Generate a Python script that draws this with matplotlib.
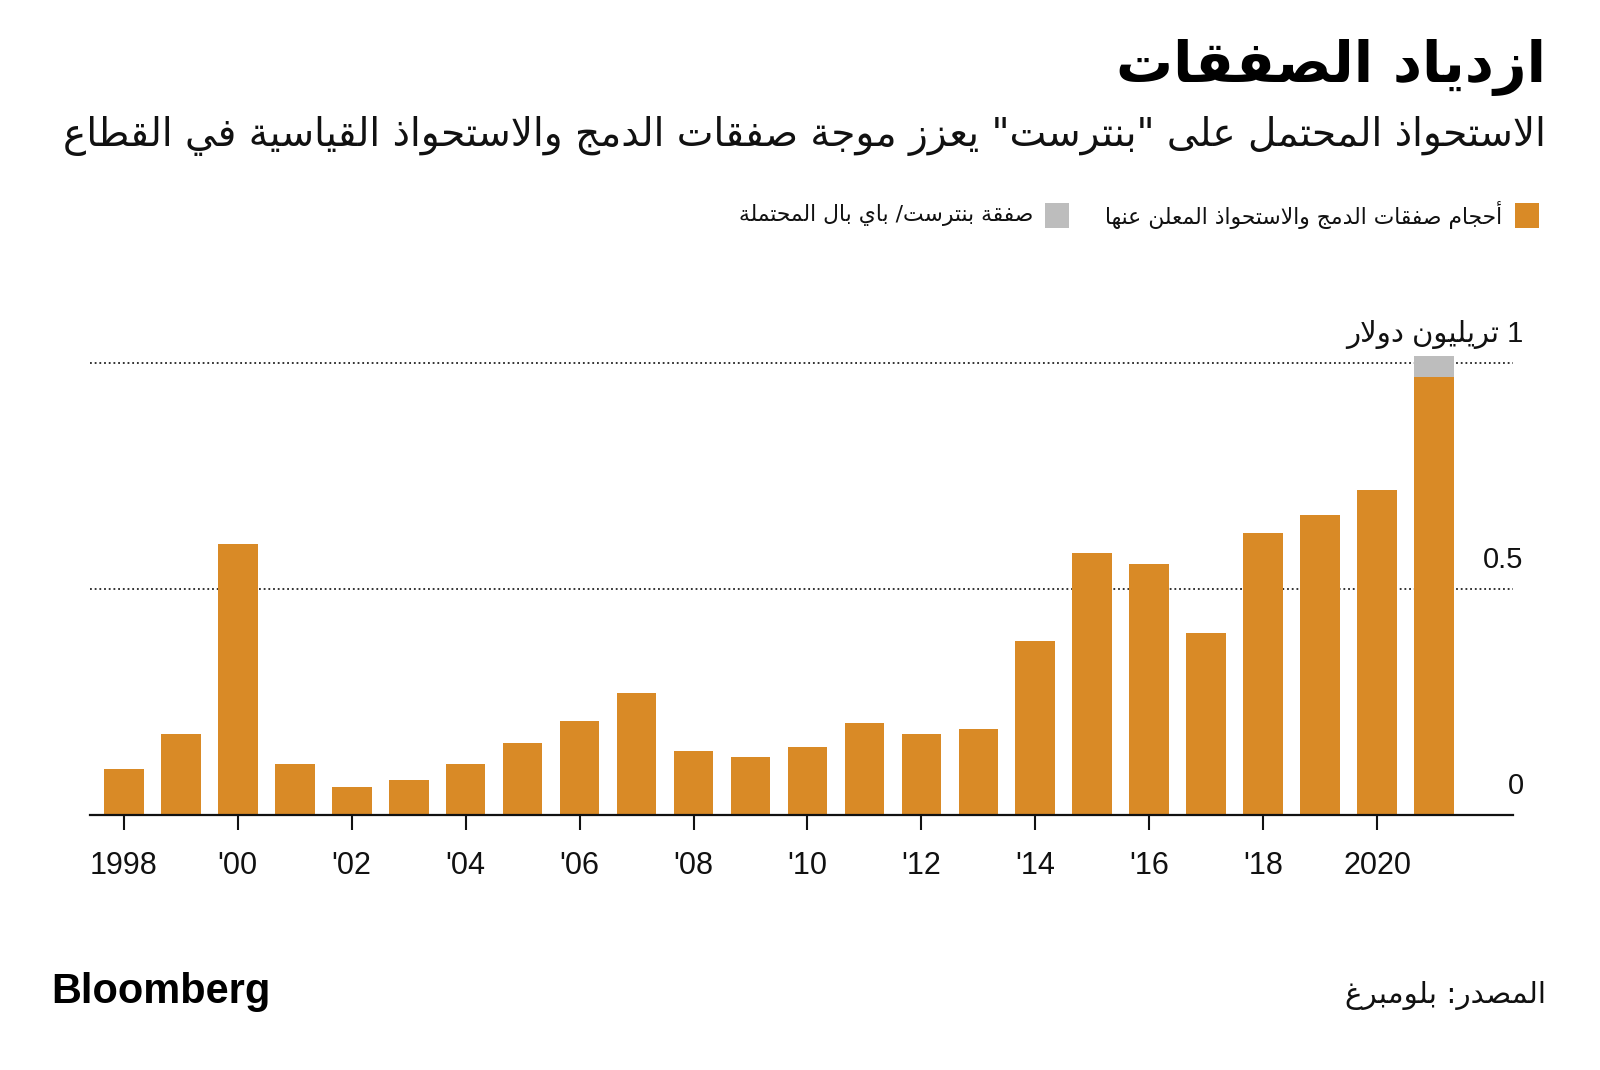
import matplotlib
matplotlib.use("Agg")
import matplotlib.pyplot as plt
from matplotlib import font_manager
from matplotlib.patches import Rectangle
import matplotlib.transforms as mtransforms

# ---------------- data ----------------
years = [1998, 1999, 2000, 2001, 2002, 2003, 2004, 2005, 2006, 2007, 2008, 2009,
         2010, 2011, 2012, 2013, 2014, 2015, 2016, 2017, 2018, 2019, 2020, 2021]
announced = [0.102, 0.179, 0.599, 0.113, 0.063, 0.079, 0.113, 0.159, 0.209, 0.270,
             0.143, 0.129, 0.152, 0.204, 0.179, 0.190, 0.385, 0.580, 0.556, 0.404,
             0.624, 0.664, 0.719, 0.968]
pending_years = [2021]
pending_values = [0.047]

tick_years = [1998, 2000, 2002, 2004, 2006, 2008, 2010, 2012, 2014, 2016, 2018, 2020]
tick_labels = ["1998", "'00", "'02", "'04", "'06", "'08", "'10", "'12", "'14", "'16", "'18", "2020"]
y_values = [0, 0.5, 1.0]
y_labels = ["0", "0.5", "1 تريليون دولار"]

title = "ازدياد الصفقات"
subtitle = 'الاستحواذ المحتمل على "بنترست" يعزز موجة صفقات الدمج والاستحواذ القياسية في القطاع'
legend_labels = ["أحجام صفقات الدمج والاستحواذ المعلن عنها", "صفقة بنترست/ باي بال المحتملة"]
source = "المصدر: بلومبرغ"
brand = "Bloomberg"

ORANGE = "#D98A26"
GRAY = "#BDBDBD"

# ---------------- Arabic shaping (contextual forms + RTL order) ----------------
_BASE = [("\u0621", 0xFE80, 1), ("\u0622", 0xFE81, 2), ("\u0623", 0xFE83, 2),
         ("\u0624", 0xFE85, 2), ("\u0625", 0xFE87, 2), ("\u0626", 0xFE89, 4),
         ("\u0627", 0xFE8D, 2), ("\u0628", 0xFE8F, 4), ("\u0629", 0xFE93, 2),
         ("\u062A", 0xFE95, 4), ("\u062B", 0xFE99, 4), ("\u062C", 0xFE9D, 4),
         ("\u062D", 0xFEA1, 4), ("\u062E", 0xFEA5, 4), ("\u062F", 0xFEA9, 2),
         ("\u0630", 0xFEAB, 2), ("\u0631", 0xFEAD, 2), ("\u0632", 0xFEAF, 2),
         ("\u0633", 0xFEB1, 4), ("\u0634", 0xFEB5, 4), ("\u0635", 0xFEB9, 4),
         ("\u0636", 0xFEBD, 4), ("\u0637", 0xFEC1, 4), ("\u0638", 0xFEC5, 4),
         ("\u0639", 0xFEC9, 4), ("\u063A", 0xFECD, 4), ("\u0641", 0xFED1, 4),
         ("\u0642", 0xFED5, 4), ("\u0643", 0xFED9, 4), ("\u0644", 0xFEDD, 4),
         ("\u0645", 0xFEE1, 4), ("\u0646", 0xFEE5, 4), ("\u0647", 0xFEE9, 4),
         ("\u0648", 0xFEED, 2), ("\u0649", 0xFEEF, 2), ("\u064A", 0xFEF1, 4)]
FORMS = {c: tuple(chr(s + k) for k in range(n)) for c, s, n in _BASE}
LAMALEF = {"\u0622": ("\uFEF5", "\uFEF6"), "\u0623": ("\uFEF7", "\uFEF8"),
           "\u0625": ("\uFEF9", "\uFEFA"), "\u0627": ("\uFEFB", "\uFEFC")}


def shape(s):
    if not any(c in FORMS for c in s):
        return s
    chars = list(s)
    n = len(chars)
    dual = lambda c: c in FORMS and len(FORMS[c]) == 4
    joins = lambda c: c in FORMS and len(FORMS[c]) >= 2
    res = []
    i = 0
    while i < n:
        c = chars[i]
        prev = chars[i - 1] if i > 0 else None
        prev_join = prev is not None and dual(prev)
        if c == "\u0644" and i + 1 < n and chars[i + 1] in LAMALEF:
            iso, fin = LAMALEF[chars[i + 1]]
            res.append(fin if prev_join else iso)
            i += 2
            continue
        if c in FORMS:
            f = FORMS[c]
            nxt = chars[i + 1] if i + 1 < n else None
            next_join = nxt is not None and joins(nxt) and len(f) == 4
            if prev_join and next_join:
                res.append(f[3])
            elif prev_join:
                res.append(f[1] if len(f) > 1 else f[0])
            elif next_join:
                res.append(f[2])
            else:
                res.append(f[0])
        else:
            res.append(c)
        i += 1
    return "".join(reversed(res))


# ---------------- fonts ----------------
installed = {f.name for f in font_manager.fontManager.ttflist}
AR = ["DejaVu Sans"]
LAT = ["Liberation Sans"] if "Liberation Sans" in installed else ["DejaVu Sans"]
plt.rcParams["font.family"] = LAT + AR

# ---------------- figure ----------------
W, H = 1600, 1070
fig = plt.figure(figsize=(W / 100, H / 100), dpi=100)
fig.patch.set_facecolor("white")


def fx(px):
    return px / W


def fy(py):
    return 1 - py / H


ax_left, ax_right = 90, 1513
ax_base, ax_top = 815.3, 340.4
ax = fig.add_axes([fx(ax_left), fy(ax_base), (ax_right - ax_left) / W, (ax_base - ax_top) / H])

ax.bar(years, announced, width=0.7, color=ORANGE, zorder=3, linewidth=0)
last = [announced[years.index(y)] for y in pending_years]
ax.bar(pending_years, pending_values, bottom=last, width=0.7, color=GRAY, zorder=3, linewidth=0)

ax.set_xlim(1997.41, 2022.38)
ax.set_ylim(0, 1.05)

for v in y_values[1:]:
    ax.axhline(v, color="#222222", lw=1.3, ls=(0, (1, 1.6)), zorder=1)

for s in ["top", "left", "right"]:
    ax.spines[s].set_visible(False)
ax.spines["bottom"].set_color("#111111")
ax.spines["bottom"].set_linewidth(1.6)
ax.spines["bottom"].set_zorder(4)

ax.set_xticks(tick_years)
ax.set_xticklabels(tick_labels)
ax.tick_params(axis="x", length=10.5, width=1.5, color="#111111", pad=15,
               labelsize=22, labelcolor="#111111")
ax.set_yticks([])

ytrans = mtransforms.blended_transform_factory(ax.transAxes, ax.transData)
for v, lab in zip(y_values, y_labels):
    ax.annotate(shape(lab), xy=(1.0075, v), xycoords=ytrans, xytext=(0, 15),
                textcoords="offset points", ha="right", va="baseline",
                fontsize=21, color="#111111", family=LAT + AR)

# ---------------- texts ----------------
t_title = fig.text(fx(1546), fy(68), shape(title), ha="right", va="center",
                   fontsize=40, fontweight="bold", family=AR, color="#000000")
t_sub = fig.text(fx(1546), fy(136), shape(subtitle), ha="right", va="center",
                 fontsize=26, family=AR, color="#111111")
t_leg1 = fig.text(fx(1502), fy(215), shape(legend_labels[0]), ha="right", va="center",
                  fontsize=15, family=AR, color="#111111")
t_leg2 = fig.text(fx(1033), fy(215), shape(legend_labels[1]), ha="right", va="center",
                  fontsize=15, family=AR, color="#111111")
t_src = fig.text(fx(1546), fy(995), shape(source), ha="right", va="center",
                 fontsize=19, family=AR, color="#111111")
t_brand = fig.text(fx(51), fy(992), brand, ha="left", va="center",
                   fontsize=29, fontweight="bold", family=LAT, color="#000000")

# legend squares
for x0, col in [(1515, ORANGE), (1045, GRAY)]:
    fig.patches.append(Rectangle((fx(x0), fy(228)), 24 / W, 25 / H,
                                 transform=fig.transFigure, facecolor=col,
                                 edgecolor="none", figure=fig))

# fit text widths to the reference
fig.canvas.draw()
r = fig.canvas.get_renderer()
for t, target in [(t_title, 429), (t_sub, 1483), (t_leg1, 400), (t_leg2, 296),
                  (t_src, 201), (t_brand, 219)]:
    w = t.get_window_extent(r).width
    if w > 0:
        t.set_fontsize(t.get_fontsize() * target / w)

fig.savefig("out.png", dpi=100, facecolor="white")
